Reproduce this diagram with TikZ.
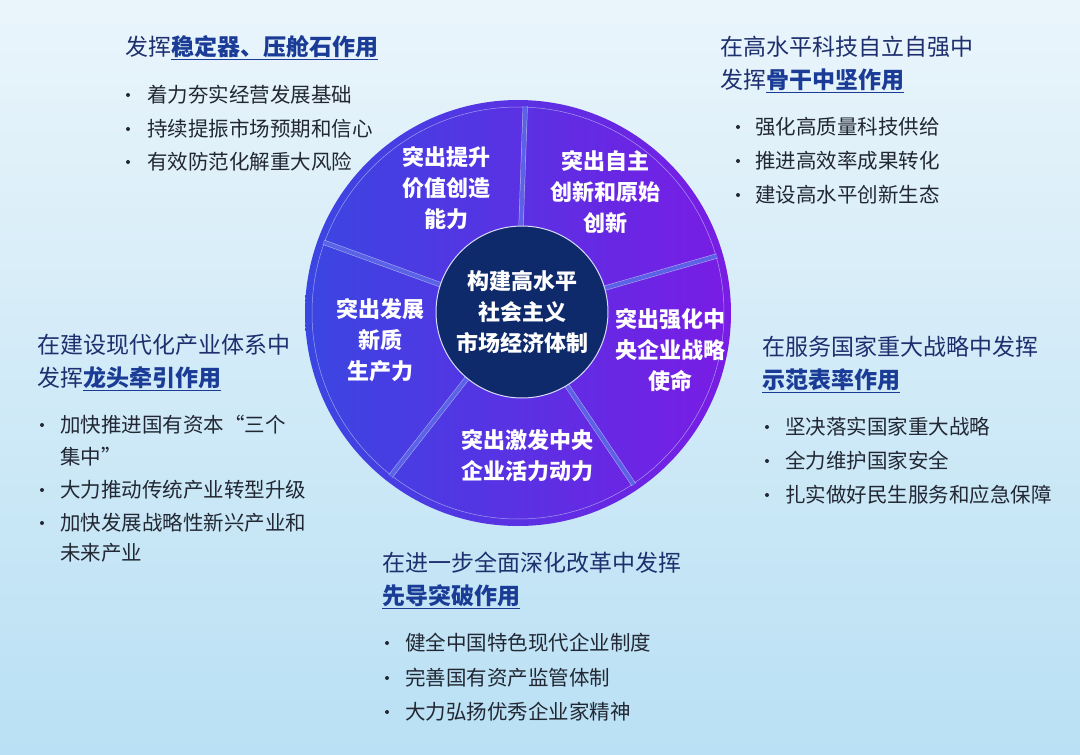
\documentclass[tikz,border=0pt]{standalone}
\usepackage{fontspec}
\setmainfont{Noto Sans CJK SC}
\usetikzlibrary{shadings}
\definecolor{bgtop}{HTML}{EAF5FB}
\definecolor{bgbot}{HTML}{B9E0F4}
\definecolor{hd}{HTML}{1E2F6E}
\definecolor{hl}{HTML}{1A3C96}
\definecolor{tx}{HTML}{222833}
\definecolor{cl}{HTML}{3A46E2}
\definecolor{cr}{HTML}{7A1CE4}
\definecolor{ctr}{HTML}{0E2A6A}
\newcommand{\hlt}[1]{{\bfseries\color{hl}\underline{#1}}}
\tikzset{
  head/.style={anchor=west,text=hd,font=\fontsize{23}{30}\selectfont,inner sep=0},
  item/.style={anchor=west,text=tx,font=\fontsize{20.5}{33}\selectfont,inner sep=0},
  dot/.style={circle,fill=tx,inner sep=0,minimum size=4pt},
  sect/.style={text=white,font=\bfseries\fontsize{22}{31}\selectfont,align=center,inner sep=0},
  divl/.style={draw=white!75!cl,line width=0.5pt,double=white!5!cl,double distance=4pt,opacity=0.8}
}
\begin{document}
\begin{tikzpicture}[x=1pt,y=-1pt]
\shade[top color=bgtop,bottom color=bgbot] (0,0) rectangle (1080,755);
\useasboundingbox (0,0) rectangle (1080,755);
\shade[left color=cl,right color=cr] (518,313) circle (213);
\draw[white!70!cl,line width=0.5pt,opacity=0.7] (518,313) circle (206);
\foreach \a in {88,16,-56,-128,160}{
  \draw[divl] (518,313) -- ++({cos(\a)*207},{-sin(\a)*207});
}
\node[circle,fill=ctr,draw=white!80!cl,line width=1pt,minimum size=172pt,inner sep=0] (c) at (522,312) {};
\node[sect] (ct) at (522,312) {构建高水平\\社会主义\\市场经济体制};
\node[sect] (s1) at (446,188) {突出提升\\价值创造\\能力};
\node[sect] (s2) at (605,192) {突出自主\\创新和原始\\创新};
\node[sect] (s3) at (380,340) {突出发展\\新质\\生产力};
\node[sect] (s4) at (670,350) {突出强化中\\央企业战略\\使命};
\node[sect] (s5) at (527,456) {突出激发中央\\企业活力动力};
\node[head] (h1) at (125,48) {发挥\hlt{稳定器、压舱石作用}};
\foreach \y/\t in {95/着力夯实经营发展基础,129/持续提振市场预期和信心,162/有效防范化解重大风险}{
  \node[dot] at (128,\y) {}; \node[item] at (147,\y) {\t};}
\node[head] (h2a) at (720,47) {在高水平科技自立自强中};
\node[head] (h2b) at (720,81) {发挥\hlt{骨干中坚作用}};
\foreach \y/\t in {127/强化高质量科技供给,161/推进高效率成果转化,195/建设高水平创新生态}{
  \node[dot] at (738,\y) {}; \node[item] at (755,\y) {\t};}
\node[head] (h3a) at (37,345) {在建设现代化产业体系中};
\node[head] (h3b) at (37,379) {发挥\hlt{龙头牵引作用}};
\foreach \y/\t in {425/加快推进国有资本“三个,490/大力推动传统产业转型升级,523/加快发展战略性新兴产业和}{
  \node[dot] at (42,\y) {}; \node[item] at (60,\y) {\t};}
\node[item] at (60,457) {集中”};
\node[item] at (60,553) {未来产业};
\node[head] (h4a) at (762,347) {在服务国家重大战略中发挥};
\node[head] (h4b) at (762,381) {\hlt{示范表率作用}};
\foreach \y/\t in {427/坚决落实国家重大战略,461/全力维护国家安全,495/扎实做好民生服务和应急保障}{
  \node[dot] at (767,\y) {}; \node[item] at (785,\y) {\t};}
\node[head] (h5a) at (382,563) {在进一步全面深化改革中发挥};
\node[head] (h5b) at (382,597) {\hlt{先导突破作用}};
\foreach \y/\t in {643/健全中国特色现代企业制度,678/完善国有资产监管体制,712/大力弘扬优秀企业家精神}{
  \node[dot] at (387,\y) {}; \node[item] at (405,\y) {\t};}
\end{tikzpicture}
\end{document}
